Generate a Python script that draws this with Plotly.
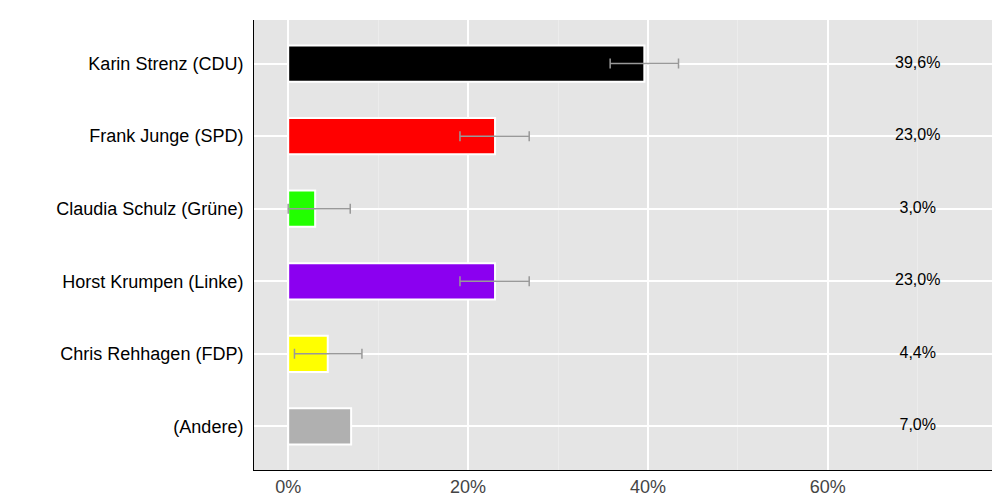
import plotly.graph_objects as go

candidates = ["Karin Strenz (CDU)", "Frank Junge (SPD)", "Claudia Schulz (Grüne)",
              "Horst Krumpen (Linke)", "Chris Rehhagen (FDP)", "(Andere)"]
values = [39.6, 23.0, 3.0, 23.0, 4.4, 7.0]
err_low = [35.8, 19.1, 0.0, 19.1, 0.7, None]
err_high = [43.4, 26.8, 6.9, 26.8, 8.2, None]
colors = ["#000000", "#ff0000", "#22ff00", "#8b00f0", "#ffff00", "#b0b0b0"]
value_labels = ["39,6%", "23,0%", "3,0%", "23,0%", "4,4%", "7,0%"]
tick_vals = [0, 20, 40, 60]
tick_text = ["0%", "20%", "40%", "60%"]
label_x = 70

fig = go.Figure()
fig.add_bar(y=candidates, x=values, orientation="h", width=0.5,
            marker=dict(color=colors, line=dict(color="white", width=2)),
            hoverinfo="skip")
ey = [c for c, l in zip(candidates, err_low) if l is not None]
ex = [v for v, l in zip(values, err_low) if l is not None]
plus = [h - v for v, h in zip(values, err_high) if h is not None]
minus = [v - l for v, l in zip(values, err_low) if l is not None]
fig.add_scatter(y=ey, x=ex, mode="markers", marker=dict(size=0.1, color="rgba(0,0,0,0)"),
                error_x=dict(type="data", symmetric=False, array=plus, arrayminus=minus,
                             color="#999999", thickness=1.5, width=5),
                hoverinfo="skip")
fig.add_scatter(y=candidates, x=[label_x]*len(candidates), mode="text",
                text=value_labels, textfont=dict(size=16, color="black"),
                hoverinfo="skip")
fig.update_layout(
    width=1000, height=500, showlegend=False,
    margin=dict(l=246, r=12, t=12, b=38, autoexpand=False),
    paper_bgcolor="white", plot_bgcolor="#e5e5e5",
    font=dict(family="Liberation Sans, Arial", size=18, color="black"),
    bargap=0.5,
)
fig.update_xaxes(range=[-3.8, 78.7], tickvals=tick_vals, ticktext=tick_text,
                 tickfont=dict(color="#444444", size=18),
                 gridcolor="white", gridwidth=1.5,
                 minor=dict(dtick=10, gridcolor="#ececec", gridwidth=1, showgrid=True),
                 showline=True, linecolor="black", linewidth=1, zeroline=False,
                 ticks="", automargin=False, fixedrange=True)
fig.update_yaxes(categoryorder="array", categoryarray=candidates[::-1],
                 gridcolor="white", gridwidth=1.5, showline=True,
                 linecolor="black", linewidth=1, ticks="", ticklabelstandoff=6,
                 automargin=False, range=[-0.6, 5.6])
fig.write_html("out.html")
